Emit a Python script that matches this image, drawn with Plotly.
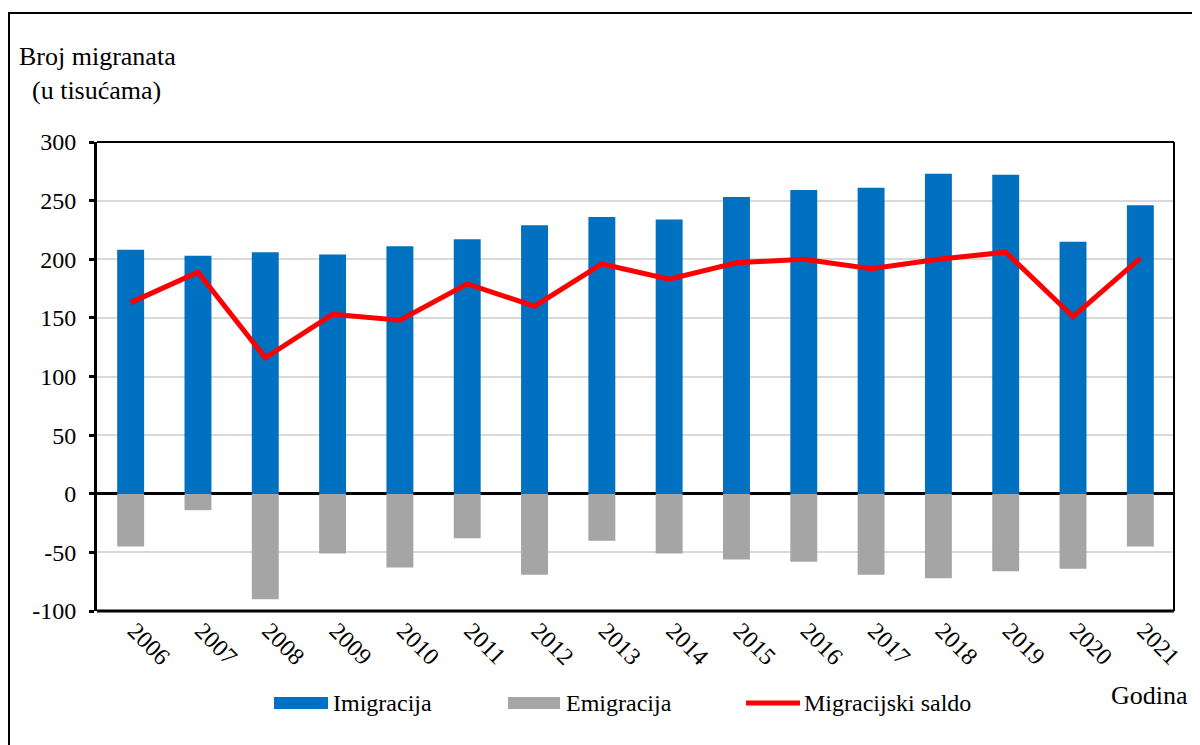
import plotly.graph_objects as go

years = [str(y) for y in range(2006, 2022)]
imigracija = [208, 203, 206, 204, 211, 217, 229, 236, 234, 253, 259, 261, 273, 272, 215, 246]
emigracija = [-45, -14, -90, -51, -63, -38, -69, -40, -51, -56, -58, -69, -72, -66, -64, -45]
saldo = [163, 189, 116, 153, 148, 179, 160, 196, 183, 197, 200, 192, 200, 206, 151, 201]
y_tickvals = [-100, -50, 0, 50, 100, 150, 200, 250, 300]
y_ticktext = ["-100", "-50", "0", "50", "100", "150", "200", "250", "300"]

series_names = ["Imigracija", "Emigracija", "Migracijski saldo"]
colors = ["#0070C0", "#A5A5A5", "#FF0000"]
FONT = "Liberation Serif"
FS = 24

# page offset (browser body margin) = 8px
OFF = 8
L, T = 97 - OFF, 142 - OFF
PW, PH = 1077, 469
R = 1200 - (L + PW)
B = 745 - (T + PH)

fig = go.Figure()
fig.add_trace(go.Bar(x=years, y=imigracija, name=series_names[0], marker_color=colors[0],
                     marker_line_width=0, width=0.4, showlegend=False))
fig.add_trace(go.Bar(x=years, y=emigracija, name=series_names[1], marker_color=colors[1],
                     marker_line_width=0, width=0.4, showlegend=False))
fig.add_trace(go.Scatter(x=years, y=saldo, name=series_names[2], mode="lines",
                         line=dict(color=colors[2], width=5), showlegend=False))

fig.update_layout(
    width=1200, height=745,
    margin=dict(l=L, r=R, t=T, b=B),
    paper_bgcolor="white", plot_bgcolor="white",
    barmode="relative",
    font=dict(family=FONT, size=FS, color="black"),
)
fig.update_xaxes(
    type="category", tickangle=45, showgrid=False,
    showline=False, ticks="", tickfont=dict(size=FS, family=FONT),
    ticklabelshift=4,
)
fig.update_yaxes(
    range=[-100, 300], tickvals=y_tickvals, ticktext=y_ticktext,
    showgrid=True, gridcolor="#D9D9D9", gridwidth=2,
    zeroline=True, zerolinecolor="black", zerolinewidth=3,
    showline=True, linecolor="black", linewidth=3,
    ticks="outside", ticklen=5, tickwidth=3, tickcolor="black",
    tickfont=dict(size=FS, family=FONT), ticklabelstandoff=8,
)

def px_x(x):
    return (x - OFF - L) / PW

def px_y(y):
    return (T + PH - (y - OFF)) / PH

shapes = [
    # outer frame
    dict(type="rect", xref="paper", yref="paper", x0=px_x(9), x1=px_x(1260), y0=px_y(800), y1=px_y(13),
         line=dict(color="black", width=2), fillcolor="rgba(0,0,0,0)", layer="above"),
    # top/right thin frame of plot area
    dict(type="line", xref="paper", yref="paper", x0=0, x1=1, y0=1, y1=1, line=dict(color="black", width=2)),
    dict(type="line", xref="paper", yref="paper", x0=1, x1=1, y0=0, y1=1, line=dict(color="black", width=2)),
    # bottom thick
    dict(type="line", xref="paper", yref="paper", x0=0, x1=1, y0=0, y1=0, line=dict(color="black", width=3)),
]

legend_items = [
    (274, 328, 331, series_names[0], colors[0], 12),
    (508, 560, 564, series_names[1], colors[1], 12),
    (746, 800, 802, series_names[2], colors[2], 5),
]
annotations = []
ly = 703
for x0, x1, tx, name, col, th in legend_items:
    shapes.append(dict(type="line", xref="paper", yref="paper", x0=px_x(x0), x1=px_x(x1),
                       y0=px_y(ly), y1=px_y(ly), line=dict(color=col, width=th)))
    annotations.append(dict(xref="paper", yref="paper", x=px_x(tx), y=px_y(ly), text=name,
                            showarrow=False, xanchor="left", yanchor="middle",
                            font=dict(size=FS, family=FONT)))

annotations.append(dict(xref="paper", yref="paper", x=px_x(1109), y=px_y(695), text="Godina",
                        showarrow=False, xanchor="left", yanchor="middle", font=dict(size=26, family=FONT)))
annotations.append(dict(xref="paper", yref="paper", x=px_x(17), y=px_y(74),
                        text="Broj migranata<br>  (u tisućama)", align="left",
                        showarrow=False, xanchor="left", yanchor="middle", font=dict(size=26, family=FONT)))

fig.update_layout(shapes=shapes, annotations=annotations)
fig.write_html("out.html")
